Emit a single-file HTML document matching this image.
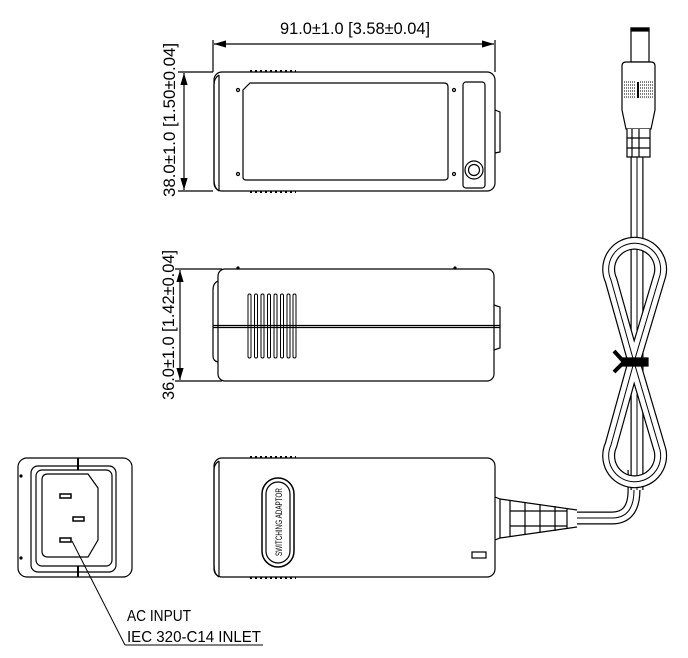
<!DOCTYPE html>
<html><head><style>body{margin:0;background:#fff}svg{display:block}</style></head>
<body>
<svg width="688" height="658" viewBox="0 0 688 658" xmlns="http://www.w3.org/2000/svg" fill="none" stroke="#000" stroke-width="1.2" font-family="Liberation Sans, sans-serif">
<defs>
<marker id="a" viewBox="0 0 10 6" refX="10" refY="3" markerWidth="10" markerHeight="6" orient="auto-start-reverse"><path d="M0 0L10 3L0 6Z" fill="#000" stroke="none"/></marker>
</defs>
<!-- top dimension -->
<line x1="213" y1="40" x2="213" y2="72"/><line x1="495" y1="40" x2="495" y2="72"/>
<line x1="214" y1="44" x2="494" y2="44" marker-start="url(#a)" marker-end="url(#a)"/>
<text x="355" y="34" font-size="17" fill="#000" stroke="none" text-anchor="middle" textLength="150" lengthAdjust="spacingAndGlyphs">91.0±1.0  [3.58±0.04]</text>
<!-- left dims -->
<line x1="178" y1="72" x2="213" y2="72"/><line x1="178" y1="191" x2="213" y2="191"/>
<line x1="184" y1="73" x2="184" y2="190" marker-start="url(#a)" marker-end="url(#a)"/>
<text transform="translate(175,120) rotate(-90)" font-size="17" fill="#000" stroke="none" text-anchor="middle" textLength="154" lengthAdjust="spacingAndGlyphs">38.0±1.0  [1.50±0.04]</text>
<line x1="175" y1="269" x2="222" y2="269"/><line x1="175" y1="381" x2="222" y2="381"/>
<line x1="180" y1="270" x2="180" y2="380" marker-start="url(#a)" marker-end="url(#a)"/>
<text transform="translate(174,325) rotate(-90)" font-size="17" fill="#000" stroke="none" text-anchor="middle" textLength="150" lengthAdjust="spacingAndGlyphs">36.0±1.0  [1.42±0.04]</text>

<!-- TOP VIEW -->
<rect x="214" y="72" width="281" height="119" rx="8"/>
<path d="M219 75 Q214 78 214 85 V180 Q214 188 219 191 M219 75 V191"/>
<path d="M250 83 H444 Q448 83 448 87 V177 Q448 180 444 180 H246 Q243 180 243 177 V90 Z"/>
<circle cx="238" cy="90" r="1.5"/><circle cx="454" cy="90" r="1.5"/><circle cx="238" cy="174" r="1.5"/><circle cx="454" cy="174" r="1.5"/>
<rect x="463" y="82" width="22" height="106" rx="3"/>
<circle cx="474" cy="170" r="9"/><circle cx="474" cy="170" r="5.5"/>
<path d="M495 110 L500 112 V152 L495 153"/>
<line x1="250" y1="71" x2="296" y2="71" stroke-dasharray="2 3" stroke-width="2"/>
<line x1="250" y1="192" x2="296" y2="192" stroke-dasharray="2 3" stroke-width="2"/>

<!-- SIDE VIEW -->
<rect x="218" y="269" width="276" height="112" rx="7"/>
<path d="M218 281 Q213 283 213 290 V356 Q213 361 218 362"/>
<path d="M494 305 L500 307 V348 L494 350"/>
<line x1="213" y1="325.5" x2="500" y2="325.5"/><line x1="213" y1="327.5" x2="500" y2="327.5"/>
<g stroke-width="1">
<rect x="248" y="294" width="3" height="64" rx="1.5"/><rect x="254.5" y="294" width="3" height="64" rx="1.5"/><rect x="261" y="294" width="3" height="64" rx="1.5"/><rect x="267.5" y="294" width="3" height="64" rx="1.5"/><rect x="274" y="294" width="3" height="64" rx="1.5"/><rect x="280.5" y="294" width="3" height="64" rx="1.5"/><rect x="287" y="294" width="3" height="64" rx="1.5"/><rect x="293" y="294" width="3" height="64" rx="1.5"/>
</g>
<circle cx="238" cy="268" r="1" fill="#000"/><circle cx="455" cy="268" r="1" fill="#000"/>

<!-- BOTTOM VIEW -->
<rect x="214" y="458" width="281" height="119" rx="8"/>
<path d="M219 461 Q214 464 214 470 V566 Q214 574 219 577 M219 461 V577"/>
<line x1="250" y1="457" x2="296" y2="457" stroke-dasharray="2 3" stroke-width="2"/>
<line x1="250" y1="578" x2="296" y2="578" stroke-dasharray="2 3" stroke-width="2"/>
<rect x="262" y="478" width="32" height="89" rx="16" stroke-width="1.5"/>
<rect x="266" y="482" width="24" height="81" rx="12"/>
<text transform="translate(282,522) rotate(-90)" font-size="9" fill="#000" stroke="none" text-anchor="middle" textLength="68" lengthAdjust="spacingAndGlyphs">SWITCHING ADAPTOR</text>
<rect x="472" y="552" width="14" height="6"/>
<path d="M495 497 L500 499 L577 510 M495 540 L500 538 L577 527 M500 499 V538"/>
<path d="M510 500 V537 M525 502 V535 M540 504 V533 M555 506 V531 M567 508 V529 M510 511 H567 M510 526 H567"/>
<!-- cable bottom -->
<path d="M577 518 H612 Q634 518 634 490 V470" stroke-width="13"/>
<path d="M577 518 H612 Q634 518 634 490 V470" stroke-width="10.6" stroke="#fff"/>
<path d="M577 518 H612 Q634 518 634 490 V470" stroke-width="1"/>

<!-- CABLE + LOOP -->
<path d="M637 157 V490" stroke-width="13"/>
<path d="M637 157 V490" stroke-width="10.6" stroke="#fff"/>
<path d="M637 157 V490" stroke-width="1"/>
<path d="M634 362 L611 280 A26 26 0 1 1 660 275 L634 362 L611 445 A26 26 0 1 0 660 450 Z" stroke-width="13"/>
<path d="M634 362 L611 280 A26 26 0 1 1 660 275 L634 362 L611 445 A26 26 0 1 0 660 450 Z" stroke-width="10.6" stroke="#fff"/>
<path d="M634 362 L611 280 A26 26 0 1 1 660 275 L634 362 L611 445 A26 26 0 1 0 660 450 Z" stroke-width="1"/>
<path d="M623 358 H648 V366 H623 Z" fill="#000"/>
<path d="M614 351 L624 362 L614 372" stroke-width="4"/>

<!-- PLUG -->
<rect x="631" y="28" width="18" height="34" fill="#fff"/>
<rect x="631" y="28" width="18" height="3" fill="#000"/>
<path d="M622 66 Q622 62 626 62 H651 Q655 62 655 66 V110 L651 129 H626 L622 110 Z" fill="#fff"/>
<g stroke-width="1" stroke-dasharray="1 1">
<path d="M624 82 H636 M624 85 H636 M624 88 H636 M624 91 H636 M624 94 H636 M624 97 H636 M640 82 H653 M640 85 H653 M640 88 H653 M640 91 H653 M640 94 H653 M640 97 H653"/>
</g>
<line x1="638" y1="82" x2="638" y2="98" stroke-width="2"/>
<path d="M627 129 V157 H650 V129 M627 138 H650 M627 148 H650 M632 129 V157 M639 129 V157" fill="#fff"/>

<!-- END VIEW -->
<rect x="18" y="458" width="114" height="119" rx="9"/>
<rect x="31" y="466" width="85" height="106" rx="7"/>
<rect x="36" y="470" width="76" height="96" rx="6"/>
<path d="M48 474 H88 L98 488 V540 L88 557 H48 Q42 557 42 551 V480 Q42 474 48 474 Z"/>
<line x1="78" y1="458" x2="78" y2="470" stroke-width="2"/><line x1="78" y1="566" x2="78" y2="577" stroke-width="2"/>
<rect x="60" y="494" width="11" height="4" stroke-width="1.5"/>
<rect x="73" y="517" width="11" height="4" stroke-width="1.5"/>
<rect x="60" y="538" width="11" height="4" stroke-width="1.5"/>
<circle cx="21" cy="476" r="1" fill="#000"/><circle cx="21" cy="558" r="1" fill="#000"/>
<line x1="72" y1="541" x2="125" y2="645" stroke-width="1"/>
<line x1="125" y1="645" x2="263" y2="645" stroke-width="1"/>
<text x="127" y="621" font-size="16" fill="#000" stroke="none" textLength="64" lengthAdjust="spacingAndGlyphs">AC INPUT</text>
<text x="127" y="642" font-size="16" fill="#000" stroke="none" textLength="134" lengthAdjust="spacingAndGlyphs">IEC 320-C14 INLET</text>
</svg>
</body></html>
